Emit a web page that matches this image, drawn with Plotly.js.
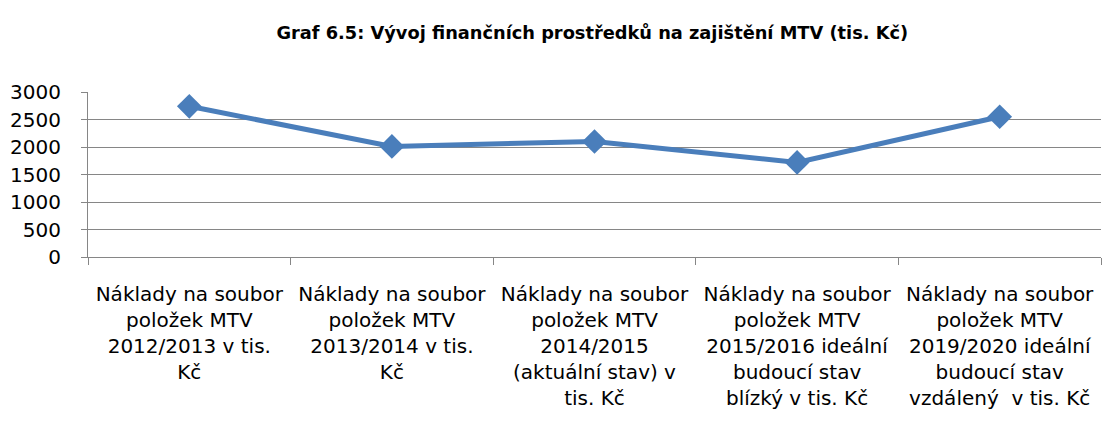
<!DOCTYPE html>
<html>
<head>
<meta charset="utf-8">
<script src="https://cdn.plot.ly/plotly-3.0.1.min.js"></script>
<style>html,body{margin:0;padding:0;background:#fff;}#chart{width:1105px;height:432px;}</style>
</head>
<body>
<div id="chart"></div>
<script>
const categories = [
  "Náklady na soubor<br>položek MTV<br>2012/2013 v tis.<br>Kč",
  "Náklady na soubor<br>položek MTV<br>2013/2014 v tis.<br>Kč",
  "Náklady na soubor<br>položek MTV<br>2014/2015<br>(aktuální stav) v<br>tis. Kč",
  "Náklady na soubor<br>položek MTV<br>2015/2016 ideální<br>budoucí stav<br>blízký v tis. Kč",
  "Náklady na soubor<br>položek MTV<br>2019/2020 ideální<br>budoucí stav<br>vzdálený  v tis. Kč"
];
const values = [2740, 2010, 2100, 1720, 2550];
const yTicks = [0, 500, 1000, 1500, 2000, 2500, 3000];
const titleText = "Graf 6.5: Vývoj finančních prostředků na zajištění MTV (tis. Kč)";

const FONT = "'DejaVu Sans', 'Open Sans', sans-serif";
const data = [{
  type: "scatter",
  mode: "lines+markers",
  x: categories,
  y: values,
  line: {color: "#4A7EBB", width: 5},
  marker: {symbol: "diamond", size: 19, color: "#4A7EBB"},
  hoverinfo: "x+y"
}];
const layout = {
  width: 1105, height: 432,
  margin: {l: 88, r: 4, t: 92, b: 175},
  paper_bgcolor: "#fff", plot_bgcolor: "#fff",
  showlegend: false,
  title: {text: "<b>" + titleText + "</b>", x: 0.536, xanchor: "center", y: 0.925, yanchor: "middle",
          font: {family: FONT, size: 17.8, color: "#000"}},
  xaxis: {
    type: "category", range: [-0.5, 4.5],
    tickson: "boundaries", ticks: "outside", ticklen: 7, tickcolor: "#868686", tickwidth: 1,
    showline: true, linecolor: "#868686", linewidth: 1,
    showgrid: false, zeroline: false,
    tickangle: 0, ticklabelstandoff: 19,
    tickfont: {family: FONT, size: 20, color: "#000"}
  },
  yaxis: {
    range: [0, 3000], tickvals: yTicks, ticktext: yTicks.map(String),
    ticks: "outside", ticklen: 6, tickcolor: "#868686",
    showline: true, linecolor: "#868686", linewidth: 1,
    showgrid: true, gridcolor: "#868686", gridwidth: 1,
    zeroline: false, ticklabelstandoff: 16,
    tickfont: {family: FONT, size: 20, color: "#000"}
  }
};
Plotly.newPlot("chart", data, layout, {displayModeBar: false, staticPlot: true});
</script>
</body>
</html>
